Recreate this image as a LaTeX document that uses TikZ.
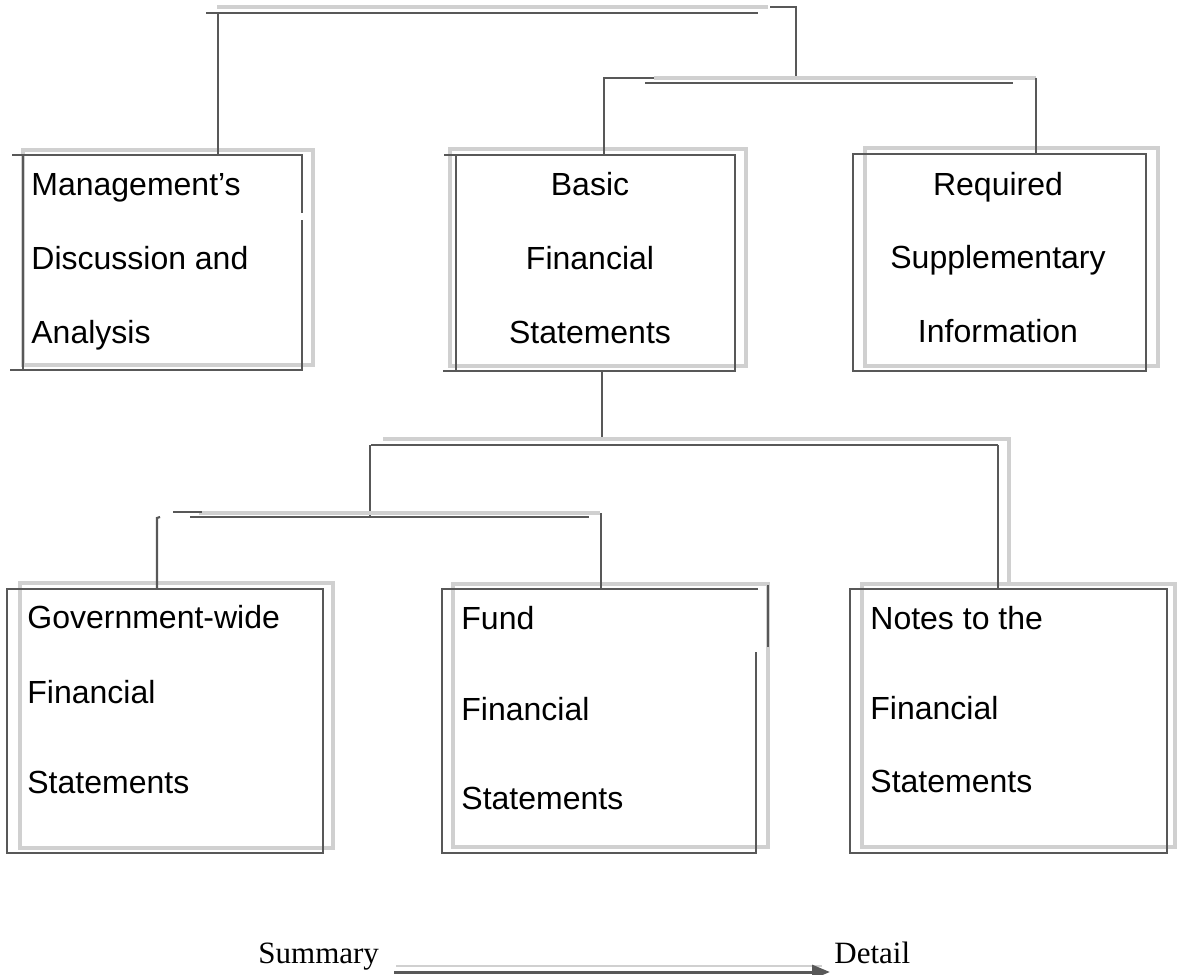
\documentclass[tikz,border=0pt]{standalone}
\usepackage{fontspec}
\setmainfont{Liberation Serif}
\newfontfamily\arialf{Liberation Sans}
\usetikzlibrary{arrows.meta}
\definecolor{dk}{HTML}{585858}
\definecolor{sh}{HTML}{D0D0D0}
\begin{document}
\begin{tikzpicture}[x=0.5pt,y=-0.5pt,
  dline/.style={draw=dk, line width=1.1pt},
  sline/.style={draw=sh, line width=1.6pt},
  box/.style={draw=dk, line width=1.1pt, rectangle, inner sep=0pt, outer sep=0pt},
  lbl/.style={font=\arialf\fontsize{16}{19}\selectfont, inner sep=0pt, text=black},
  lblw/.style={lbl, anchor=base west},
  lblc/.style={lbl, anchor=base},
  ser/.style={font=\fontsize{15.5}{18}\selectfont, inner sep=0pt, anchor=base west, text=black}]
\useasboundingbox[fill=white] (0,0) rectangle (1177,974);

% shadows
\draw[sline] (23,150) rectangle (313,365);
\draw[sline] (450,149) rectangle (746,366);
\draw[sline] (865,148) rectangle (1158,366);
\draw[sline] (20,583) rectangle (333,848);
\draw[sline] (453,584) rectangle (768,847);
\draw[sline] (862,584) rectangle (1175,847);

% boxes
\node[box, minimum width=139.5pt, minimum height=107.5pt] (b1) at (162.5,262.5) {};
\node[box, minimum width=139.5pt, minimum height=108pt] (b2) at (595.5,263) {};
\node[box, minimum width=146.5pt, minimum height=108.5pt] (b3) at (999.5,262.5) {};
\node[box, minimum width=158pt, minimum height=132pt] (b4) at (165,721) {};
\node[box, draw=none, minimum width=157pt, minimum height=132pt] (b5) at (599,721) {};
\node[box, minimum width=158.5pt, minimum height=132pt] (b6) at (1008.5,721) {};

% box details
\draw[dline] (12,155) -- (b1.north west);
\draw[dline] (10,370) -- (b1.south west);
\draw[white, line width=2pt] (302,213) -- (302,220);
\draw[dline] (444,155) -- (b2.north west);
\draw[dline] (443,371) -- (b2.south west);
\draw[dline] ([xshift=1pt]b5.north east) -- (b5.north west) -- (b5.south west) -- (b5.south east) -- (756,652);
\draw[dline] (768,585) -- (768,647);

% level 1 connectors
\draw[sline] (217,7) -- (768,7);
\draw[dline] (206,13) -- (758,13);
\coordinate (c1) at (218,13);
\draw[dline] (c1) -- (c1 |- b1.north);
\coordinate (c1r) at (796,78);
\draw[dline] (770,7) -- (796,7) -- (c1r);

% level 2 connectors
\draw[sline] (654,78) -- (1036,78);
\draw[dline] (645,83) -- (1013,83);
\coordinate (c2l) at (604,78);
\draw[dline] (654,78) -- (c2l) -- (c2l |- b2.north);
\coordinate (c2r) at (1036,78);
\draw[dline] (c2r) -- (c2r |- b3.north);

% level 3 connectors
\coordinate (c3t) at (602,441);
\draw[dline] (b2.south -| c3t) -- (c3t);
\draw[sline] (383,439) -- (1009,439) -- (1009,584);
\draw[dline] (371,445) -- (998,445);
\coordinate (c3r) at (998,445);
\draw[dline] (c3r) -- (c3r |- b6.north);
\coordinate (c3l) at (370,445);
\draw[dline] (c3l) -- (370,517);

% level 4 connectors
\draw[sline] (199,513) -- (600,513);
\draw[dline] (190,517) -- (589,517);
\draw[dline] (173,512) -- (202,512);
\coordinate (c4l) at (157,518);
\draw[dline] (160,517) -- (c4l) -- (c4l |- b4.north);
\coordinate (c4r) at (601,513);
\draw[dline] (c4r) -- (c4r |- b5.north);

% texts
\node[lblw] (t1a) at (31,195) {Management’s};
\node[lblw] (t1b) at (31,269) {Discussion and};
\node[lblw] (t1c) at (31,343) {Analysis};
\node[lblc] (t2a) at (590,195) {Basic};
\node[lblc] (t2b) at (590,269) {Financial};
\node[lblc] (t2c) at (590,343) {Statements};
\node[lblc] (t3a) at (998,195) {Required};
\node[lblc] (t3b) at (998,268) {Supplementary};
\node[lblc] (t3c) at (998,342) {Information};
\node[lblw] (t4a) at (27,628) {Government-wide};
\node[lblw] (t4b) at (27,703) {Financial};
\node[lblw] (t4c) at (27,793) {Statements};
\node[lblw] (t5a) at (461,629) {Fund};
\node[lblw] (t5b) at (461,720) {Financial};
\node[lblw] (t5c) at (461,809) {Statements};
\node[lblw] (t6a) at (870,629) {Notes to the};
\node[lblw] (t6b) at (870,719) {Financial};
\node[lblw] (t6c) at (870,792) {Statements};

% bottom scale
\node[ser] (sum) at (258,963) {Summary};
\node[ser] (det) at (834,963) {Detail};
\draw[draw=sh, line width=0.6pt] ([shift={(17,3)}]sum.base east) -- ([shift={(-12,3)}]det.base west);
\draw[draw=dk, line width=1.5pt, -{Triangle[length=9pt,width=7pt]}]
  ([shift={(15,9)}]sum.base east) -- ([shift={(-4,9)}]det.base west);
\end{tikzpicture}
\end{document}
